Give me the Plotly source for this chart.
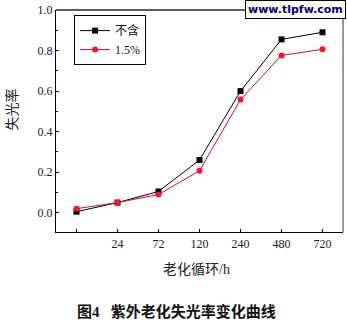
import plotly.graph_objects as go

categories = ["0", "24", "72", "120", "240", "480", "720"]
tick_labels = ["", "24", "72", "120", "240", "480", "720"]
series_none = [0.005, 0.05, 0.105, 0.26, 0.60, 0.855, 0.89]
series_15 = [0.02, 0.05, 0.09, 0.207, 0.558, 0.776, 0.806]

xs = list(range(len(categories)))
serif = "Liberation Serif, Noto Sans CJK SC"

fig = go.Figure()
fig.add_trace(go.Scatter(x=xs, y=series_none, name="不含", mode="lines+markers",
                         line=dict(color="#000000", width=1),
                         marker=dict(symbol="square", size=6, color="#000000")))
fig.add_trace(go.Scatter(x=xs, y=series_15, name="1.5%", mode="lines+markers",
                         line=dict(color="#c8102e", width=1),
                         marker=dict(symbol="circle", size=6, color="#ff1030")))

fig.update_layout(
    width=347, height=323,
    margin=dict(l=56, r=4, t=10, b=91),
    paper_bgcolor="white", plot_bgcolor="white",
    font=dict(family=serif, size=12, color="#1a1a2e"),
    showlegend=True,
    legend=dict(x=0.063, y=0.977, xanchor="left", yanchor="top",
                bordercolor="#000000", borderwidth=1, bgcolor="white",
                font=dict(size=12, family=serif, color="#111"),
                tracegroupgap=0, itemwidth=30),
    xaxis=dict(range=[-0.5, 6.5], tickmode="array", tickvals=xs, ticktext=tick_labels,
               showline=True, linecolor="#000", linewidth=1.2, mirror=False,
               ticks="inside", ticklen=3, tickcolor="#000", showgrid=False, zeroline=False,
               tickfont=dict(size=12, family=serif)),
    yaxis=dict(range=[-0.095, 1.0], tickmode="array", tickvals=[0, 0.2, 0.4, 0.6, 0.8, 1.0],
               ticktext=["0.0", "0.2", "0.4", "0.6", "0.8", "1.0"],
               showline=True, linecolor="#000", linewidth=1.2,
               ticks="inside", ticklen=3, tickcolor="#000", showgrid=False, zeroline=False,
               minor=dict(ticks="inside", ticklen=2, tickcolor="#000", dtick=0.1, tick0=0),
               tickfont=dict(size=12, family=serif)),
)
# top and right frame lines
fig.add_shape(type="line", xref="paper", yref="paper", x0=0, x1=1, y0=1, y1=1,
              line=dict(color="#5a6060", width=2))
fig.add_shape(type="line", xref="paper", yref="paper", x0=1, x1=1, y0=0, y1=1,
              line=dict(color="#333", width=1))

fig.add_annotation(text="老化循环/h", xref="paper", yref="paper", x=0.49, y=-0.125,
                   xanchor="center", yanchor="top", showarrow=False,
                   font=dict(size=14, family=serif, color="#222"))
fig.add_annotation(text="失光率", xref="paper", yref="paper", x=-0.155, y=0.55,
                   xanchor="center", yanchor="middle", showarrow=False, textangle=-90,
                   font=dict(size=14, family=serif, color="#222"))
fig.add_annotation(text="<b>图4   紫外老化失光率变化曲线</b>", xref="paper", yref="paper",
                   x=0.42, y=-0.31, xanchor="center", yanchor="top", showarrow=False,
                   font=dict(size=15, family=serif, color="#111"))
fig.add_annotation(text="<b>www.tlpfw.com</b>", xref="paper", yref="paper", x=1.012, y=1.045,
                   xanchor="right", yanchor="top", showarrow=False,
                   bgcolor="#fffff0", bordercolor="#000", borderwidth=1, borderpad=2,
                   font=dict(size=11, family="DejaVu Sans", color="#000080"))

fig.write_html("out.html")
